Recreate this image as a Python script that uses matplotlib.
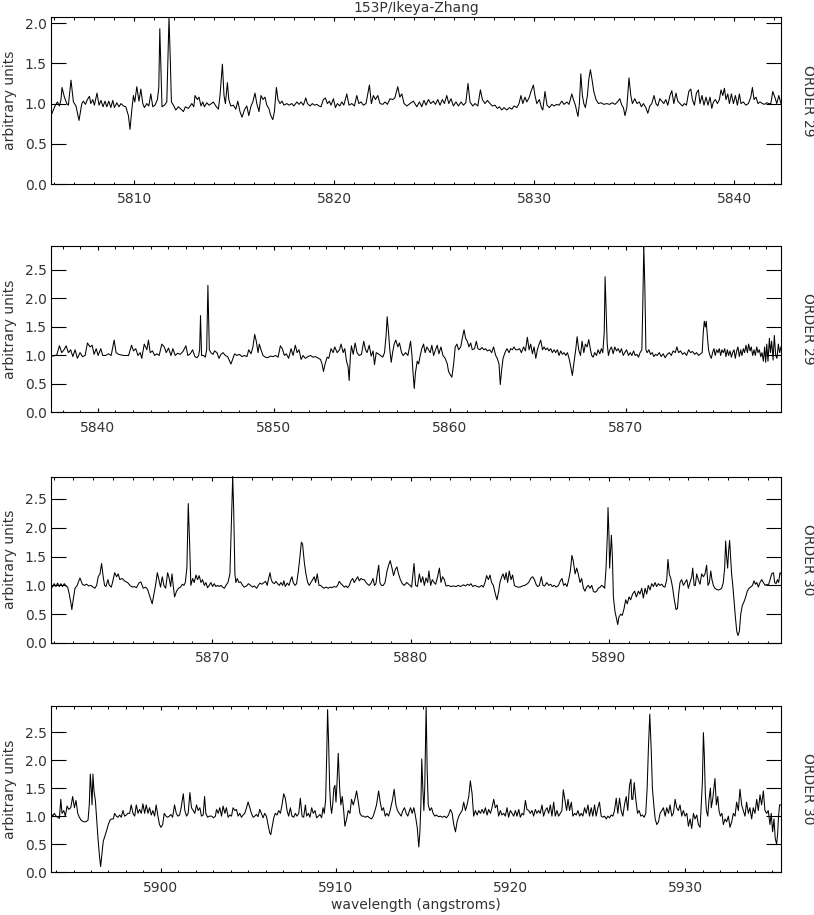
import numpy as np
import matplotlib
matplotlib.use("Agg")
import matplotlib.pyplot as plt
from matplotlib.ticker import MultipleLocator, FormatStrFormatter

title = "153P/Ikeya-Zhang"
order_labels = ["ORDER 29", "ORDER 29", "ORDER 30", "ORDER 30"]
xlims = [(5805.83, 5842.33), (5837.34, 5878.84), (5861.87, 5898.67), (5893.71, 5935.49)]
ytops = [2.07, 2.92, 2.89, 2.97]
ytick_max = [2.0, 2.5, 2.5, 2.5]

# (wavelength, flux) pairs
spec_1 = [
    (5805.83,0.85),(5806.03,0.97),(5806.15,1.02),(5806.25,0.97),(5806.33,1.05),(5806.38,1.20),(5806.50,1.08),(5806.62,1.00),(5806.70,0.98),(5806.83,1.29),
    (5806.95,1.02),(5807.08,0.97),(5807.23,0.79),(5807.37,1.00),(5807.45,1.03),(5807.55,0.99),(5807.65,1.05),(5807.75,1.09),(5807.82,1.00),(5807.92,1.05),
    (5808.00,0.98),(5808.13,1.13),(5808.23,0.98),(5808.33,1.04),(5808.43,0.96),(5808.53,1.03),(5808.62,0.96),(5808.72,1.03),(5808.82,0.95),(5808.92,1.04),
    (5809.00,0.95),(5809.12,1.01),(5809.23,0.96),(5809.33,1.00),(5809.45,0.97),(5809.57,0.96),(5809.70,0.85),(5809.78,0.68),(5809.87,0.92),(5809.95,1.10),
    (5810.02,1.02),(5810.12,1.21),(5810.23,1.03),(5810.32,1.18),(5810.42,1.00),(5810.50,0.95),(5810.62,1.00),(5810.72,0.97),(5810.82,1.12),(5810.92,0.96),
    (5811.03,0.98),(5811.15,1.05),(5811.22,1.20),(5811.27,1.93),(5811.33,1.40),(5811.38,0.96),(5811.50,0.98),(5811.62,1.02),(5811.68,1.60),(5811.73,2.07),
    (5811.80,1.50),(5811.85,1.02),(5811.95,0.98),(5812.07,0.92),(5812.20,0.96),(5812.33,0.93),(5812.45,0.90),(5812.55,0.96),(5812.70,0.94),(5812.87,1.00),
    (5812.97,0.96),(5813.03,1.10),(5813.15,1.05),(5813.23,1.08),(5813.33,0.97),(5813.42,1.02),(5813.50,0.96),(5813.62,1.01),(5813.73,0.98),(5813.85,1.00),
    (5813.95,1.02),(5814.07,0.97),(5814.20,0.93),(5814.28,1.10),(5814.40,1.49),(5814.48,1.10),(5814.55,1.00),(5814.65,1.26),(5814.72,1.05),(5814.82,0.97),
    (5814.95,0.98),(5815.07,0.93),(5815.17,1.03),(5815.28,0.90),(5815.38,0.83),(5815.50,0.92),(5815.62,0.97),(5815.72,0.85),(5815.82,0.96),(5815.92,1.02),
    (5816.03,1.13),(5816.12,1.00),(5816.23,0.90),(5816.33,1.10),(5816.43,1.05),(5816.53,1.08),(5816.62,0.98),(5816.72,0.94),(5816.82,0.85),(5816.92,0.80),
    (5817.00,0.90),(5817.10,1.20),(5817.18,1.05),(5817.28,1.00),(5817.38,1.03),(5817.48,0.98),(5817.62,1.00),(5817.73,0.98),(5817.87,1.00),(5817.98,0.97),
    (5818.12,1.02),(5818.23,0.99),(5818.33,1.02),(5818.45,0.98),(5818.57,1.07),(5818.65,1.00),(5818.78,0.97),(5818.90,1.00),(5819.00,0.98),(5819.12,0.99),
    (5819.23,0.97),(5819.33,0.96),(5819.45,1.05),(5819.55,1.07),(5819.65,1.00),(5819.75,1.03),(5819.83,0.98),(5819.95,1.06),(5820.05,0.95),(5820.15,1.00),
    (5820.27,0.97),(5820.37,1.02),(5820.47,0.98),(5820.62,1.12),(5820.73,0.98),(5820.87,1.00),(5821.00,0.97),(5821.12,1.10),(5821.22,1.00),(5821.33,1.02),
    (5821.45,0.98),(5821.58,1.00),(5821.75,1.23),(5821.85,1.00),(5821.95,1.10),(5822.05,1.05),(5822.17,1.10),(5822.28,1.00),(5822.42,0.99),(5822.53,1.02),
    (5822.65,0.99),(5822.78,1.06),(5822.92,1.05),(5823.02,1.07),(5823.17,1.21),(5823.27,1.08),(5823.37,1.12),(5823.48,1.00),(5823.62,0.97),(5823.78,1.00),
    (5823.95,1.03),(5824.12,0.96),(5824.25,1.02),(5824.37,0.96),(5824.48,1.04),(5824.58,0.98),(5824.70,1.05),(5824.82,1.00),(5824.95,1.03),(5825.05,0.99),
    (5825.17,1.05),(5825.28,0.98),(5825.40,1.05),(5825.50,1.00),(5825.62,1.10),(5825.72,1.00),(5825.83,1.06),(5825.95,0.97),(5826.08,1.02),(5826.20,0.97),
    (5826.33,1.02),(5826.45,0.98),(5826.57,1.01),(5826.68,1.25),(5826.78,1.02),(5826.92,0.97),(5827.03,1.00),(5827.17,0.97),(5827.30,1.17),(5827.40,1.05),
    (5827.53,1.00),(5827.65,1.04),(5827.78,1.00),(5827.90,0.97),(5828.03,0.98),(5828.15,0.94),(5828.25,0.96),(5828.37,0.92),(5828.48,0.95),(5828.62,0.92),
    (5828.75,0.95),(5828.87,0.93),(5828.98,0.97),(5829.12,0.95),(5829.23,1.00),(5829.33,1.10),(5829.42,1.00),(5829.53,1.08),(5829.62,1.02),(5829.73,1.07),
    (5829.83,1.15),(5829.95,1.23),(5830.03,1.10),(5830.12,1.00),(5830.25,1.05),(5830.35,0.95),(5830.42,0.92),(5830.53,1.15),(5830.63,0.98),(5830.75,0.95),
    (5830.87,0.99),(5830.98,0.97),(5831.12,0.99),(5831.23,0.98),(5831.37,1.03),(5831.48,0.99),(5831.62,1.02),(5831.73,0.99),(5831.87,1.12),(5831.95,1.05),
    (5832.05,0.98),(5832.12,0.90),(5832.18,0.84),(5832.25,1.00),(5832.32,1.37),(5832.40,1.10),(5832.47,1.00),(5832.55,0.95),(5832.65,1.10),(5832.72,1.30),
    (5832.80,1.42),(5832.88,1.30),(5832.97,1.15),(5833.08,1.05),(5833.20,1.00),(5833.33,1.01),(5833.48,0.99),(5833.62,1.00),(5833.75,0.99),(5833.90,1.01),
    (5834.03,0.99),(5834.15,1.02),(5834.27,1.06),(5834.37,0.98),(5834.45,0.95),(5834.53,0.85),(5834.62,0.95),(5834.73,1.32),(5834.82,1.10),(5834.90,1.00),
    (5835.02,1.06),(5835.13,1.00),(5835.25,1.02),(5835.35,0.96),(5835.45,1.00),(5835.57,0.95),(5835.67,0.88),(5835.77,0.97),(5835.87,1.00),(5835.98,1.10),
    (5836.08,1.00),(5836.17,0.97),(5836.27,1.06),(5836.37,1.03),(5836.47,1.00),(5836.57,1.05),(5836.67,0.98),(5836.78,1.10),(5836.87,1.16),(5836.97,1.00),
    (5837.08,1.13),(5837.17,1.03),(5837.28,1.00),(5837.40,0.97),(5837.50,1.00),(5837.60,0.98),(5837.72,1.15),(5837.82,1.18),(5837.90,1.05),(5838.00,0.98),
    (5838.10,1.13),(5838.20,1.17),(5838.28,1.00),(5838.38,1.10),(5838.48,0.98),(5838.58,1.08),(5838.68,0.98),(5838.78,1.08),(5838.87,0.94),(5838.95,1.02),
    (5839.05,1.05),(5839.15,1.00),(5839.25,1.05),(5839.33,1.17),(5839.42,1.10),(5839.50,1.19),(5839.58,1.05),(5839.67,1.12),(5839.75,1.00),(5839.85,1.12),
    (5839.95,1.00),(5840.05,1.10),(5840.15,0.98),(5840.25,1.12),(5840.33,1.00),(5840.45,1.02),(5840.57,0.98),(5840.70,1.00),(5840.82,1.08),(5840.90,1.20),
    (5840.98,1.05),(5841.08,1.08),(5841.18,1.00),(5841.28,1.02),(5841.40,1.00),(5841.50,0.99),(5841.62,1.01),(5841.72,1.00),(5841.82,1.00),(5841.92,1.15),
    (5842.02,1.08),(5842.12,1.00),(5842.22,1.10),(5842.33,1.00),
]

spec_2 = [
    (5837.34,1.00),(5837.48,0.99),(5837.67,1.01),(5837.82,1.17),(5837.95,1.05),(5838.08,1.10),(5838.20,1.17),(5838.33,1.05),(5838.46,1.10),(5838.58,0.98),
    (5838.71,1.10),(5838.84,0.95),(5838.99,1.05),(5839.13,0.98),(5839.28,1.00),(5839.41,1.22),(5839.56,1.15),(5839.68,1.18),(5839.79,1.02),(5839.91,1.12),
    (5840.02,1.00),(5840.17,1.12),(5840.28,1.00),(5840.44,1.00),(5840.61,1.03),(5840.76,1.00),(5840.93,1.27),(5841.04,1.05),(5841.18,1.02),(5841.31,1.01),
    (5841.46,1.00),(5841.61,1.00),(5841.75,1.00),(5841.92,1.18),(5842.03,1.08),(5842.16,1.12),(5842.28,1.00),(5842.41,1.05),(5842.50,0.95),(5842.64,1.20),
    (5842.79,1.10),(5842.88,1.27),(5842.98,1.05),(5843.11,1.08),(5843.23,1.00),(5843.36,1.03),(5843.49,1.00),(5843.64,1.20),(5843.78,1.15),(5843.89,1.05),
    (5844.02,1.13),(5844.16,1.00),(5844.27,1.12),(5844.40,1.00),(5844.54,1.04),(5844.69,1.02),(5844.84,1.07),(5845.01,1.17),(5845.12,1.00),(5845.26,1.03),
    (5845.39,1.10),(5845.52,0.98),(5845.64,0.96),(5845.73,1.00),(5845.79,1.10),(5845.84,1.70),(5845.90,1.00),(5846.02,1.00),(5846.11,0.97),(5846.19,1.10),
    (5846.26,2.23),(5846.34,1.10),(5846.43,1.05),(5846.55,1.02),(5846.64,1.08),(5846.77,1.05),(5846.89,0.95),(5847.00,1.02),(5847.12,1.05),(5847.25,1.00),
    (5847.38,0.98),(5847.50,0.90),(5847.57,0.85),(5847.69,0.95),(5847.78,1.03),(5847.91,1.00),(5848.05,1.02),(5848.20,0.98),(5848.33,1.00),(5848.48,0.98),
    (5848.58,1.10),(5848.71,1.03),(5848.82,1.15),(5848.92,1.37),(5849.01,1.25),(5849.11,1.05),(5849.18,1.20),(5849.28,1.10),(5849.39,1.00),(5849.53,0.97),
    (5849.66,0.96),(5849.81,0.99),(5849.96,0.98),(5850.11,1.00),(5850.25,0.97),(5850.38,1.17),(5850.49,1.12),(5850.61,1.00),(5850.72,1.03),(5850.85,0.95),
    (5850.99,1.12),(5851.10,1.00),(5851.23,1.18),(5851.33,1.05),(5851.44,1.10),(5851.56,0.93),(5851.67,1.00),(5851.80,0.95),(5851.94,0.98),(5852.09,1.00),
    (5852.24,0.97),(5852.37,0.98),(5852.50,0.96),(5852.66,0.93),(5852.75,0.85),(5852.83,0.72),(5852.92,0.85),(5853.04,0.97),(5853.13,0.95),(5853.26,1.12),
    (5853.38,1.05),(5853.47,1.15),(5853.61,1.05),(5853.74,1.10),(5853.83,1.20),(5853.95,1.05),(5854.04,1.12),(5854.14,0.90),(5854.23,0.80),(5854.29,0.56),
    (5854.36,1.00),(5854.42,1.17),(5854.52,1.02),(5854.63,1.22),(5854.74,1.05),(5854.86,1.00),(5854.99,1.02),(5855.12,1.25),(5855.22,1.10),(5855.31,1.05),
    (5855.43,1.18),(5855.54,0.99),(5855.65,1.08),(5855.73,0.84),(5855.83,1.05),(5855.94,1.03),(5856.07,1.00),(5856.20,0.97),(5856.30,1.05),(5856.39,1.35),
    (5856.45,1.68),(5856.53,1.40),(5856.60,1.10),(5856.68,0.88),(5856.76,1.05),(5856.85,1.20),(5856.94,1.27),(5857.06,1.15),(5857.15,1.22),(5857.27,1.05),
    (5857.36,1.00),(5857.50,1.05),(5857.63,1.00),(5857.78,1.25),
    (5857.86,1.00),(5857.91,0.75),(5857.99,0.42),(5858.06,0.70),(5858.16,0.90),(5858.24,0.85),(5858.33,1.00),(5858.42,1.12),(5858.52,1.20),(5858.61,1.05),
    (5858.71,1.15),(5858.80,1.10),(5858.90,1.05),(5858.99,1.18),(5859.09,1.00),(5859.20,1.10),(5859.30,1.18),(5859.39,1.03),(5859.51,1.15),(5859.62,1.00),
    (5859.75,0.95),(5859.87,0.85),(5859.94,0.72),(5860.06,0.65),(5860.13,0.62),(5860.23,0.85),(5860.32,1.15),(5860.42,1.20),(5860.51,1.10),(5860.63,1.15),
    (5860.72,1.30),(5860.82,1.45),(5860.91,1.30),(5861.01,1.25),(5861.10,1.15),(5861.20,1.22),(5861.29,1.10),(5861.42,1.12),(5861.52,1.25),(5861.61,1.12),
    (5861.73,1.10),(5861.84,1.14),(5861.95,1.10),(5862.05,1.12),(5862.14,1.08),(5862.28,1.10),(5862.39,1.05),(5862.50,1.15),(5862.62,1.00),(5862.71,0.95),
    (5862.81,0.85),(5862.88,0.49),(5862.96,0.75),(5863.04,0.95),(5863.15,1.05),(5863.26,1.12),(5863.38,1.05),(5863.47,1.12),(5863.57,1.10),(5863.66,1.15),
    (5863.76,1.10),(5863.87,1.10),(5863.98,1.12),(5864.08,1.05),(5864.21,1.15),(5864.31,1.08),(5864.42,1.32),(5864.52,1.10),(5864.61,1.20),(5864.71,1.03),
    (5864.80,1.15),(5864.90,0.95),(5864.99,1.10),(5865.09,1.20),(5865.18,1.27),(5865.28,1.10),(5865.37,1.15),(5865.46,1.10),(5865.56,1.13),(5865.65,1.08),
    (5865.75,1.12),(5865.84,1.05),(5865.94,1.10),(5866.03,1.05),(5866.13,1.10),(5866.22,1.00),(5866.32,1.08),(5866.41,1.02),(5866.51,1.05),(5866.60,1.00),
    (5866.70,1.05),(5866.79,0.95),(5866.89,0.80),(5866.98,0.65),(5867.08,0.90),(5867.17,1.10),(5867.25,1.33),(5867.34,1.10),(5867.44,1.00),(5867.53,1.25),
    (5867.63,1.05),(5867.72,1.20),(5867.82,1.15),(5867.91,1.28),(5868.01,1.10),(5868.08,1.00),(5868.16,0.97),(5868.25,1.05),(5868.35,1.00),(5868.44,1.10),
    (5868.54,1.03),(5868.63,1.12),(5868.71,1.05),(5868.79,1.40),(5868.84,2.38),(5868.90,1.80),(5868.96,1.20),(5869.03,1.00),(5869.11,1.10),(5869.20,1.15),
    (5869.30,1.03),(5869.39,1.15),(5869.49,1.08),(5869.58,1.12),(5869.68,1.05),(5869.77,1.12),(5869.87,1.00),(5869.96,1.05),(5870.06,1.10),(5870.17,1.00),
    (5870.27,1.05),(5870.36,1.00),(5870.46,1.08),(5870.55,1.00),(5870.65,1.02),(5870.74,0.97),(5870.83,1.05),(5870.93,1.10),(5870.99,2.00),(5871.04,2.92),
    (5871.10,2.20),(5871.16,1.10),(5871.23,1.05),(5871.33,1.10),(5871.42,1.02),(5871.52,1.05),(5871.61,0.98),(5871.71,1.02),(5871.80,1.00),(5871.92,1.05),
    (5872.03,0.98),(5872.14,1.03),(5872.26,0.96),(5872.37,1.02),(5872.49,1.05),(5872.60,1.00),(5872.71,1.08),(5872.83,1.05),(5872.92,1.15),(5873.02,1.05),
    (5873.13,1.08),(5873.24,1.02),(5873.36,1.05),(5873.47,1.00),(5873.59,1.10),(5873.70,1.05),(5873.81,1.07),(5873.93,1.02),(5874.04,1.05),(5874.16,1.00),
    (5874.27,1.03),(5874.36,1.05),(5874.42,1.40),(5874.48,1.60),(5874.54,1.50),(5874.59,1.60),(5874.65,1.35),(5874.72,1.10),(5874.80,1.00),(5874.88,0.95),
    (5874.95,1.05),(5875.03,1.12),(5875.10,1.00),(5875.18,1.10),(5875.26,1.05),(5875.33,1.12),(5875.41,1.00),(5875.48,1.10),(5875.56,1.05),(5875.64,1.12),
    (5875.71,0.98),(5875.79,1.10),(5875.86,1.00),(5875.94,1.08),(5876.02,0.97),(5876.09,1.05),(5876.17,1.10),(5876.24,0.95),(5876.32,1.08),(5876.39,1.15),
    (5876.47,0.98),(5876.55,1.10),(5876.62,1.00),(5876.70,1.12),(5876.77,1.05),(5876.85,1.18),(5876.93,1.05),(5877.00,1.20),(5877.08,1.08),(5877.15,1.15),
    (5877.23,1.00),(5877.31,1.10),(5877.38,1.00),(5877.46,1.15),(5877.53,1.05),(5877.61,1.10),(5877.69,0.98),(5877.76,1.05),(5877.84,0.90),(5877.91,1.15),
    (5877.97,0.88),(5878.03,1.20),(5878.10,0.90),(5878.18,1.30),(5878.24,1.05),(5878.31,1.25),(5878.39,0.92),(5878.46,1.35),(5878.54,1.00),(5878.61,0.95),
    (5878.69,1.20),(5878.76,1.05),(5878.84,1.15),
]

spec_3 = [
    (5861.87,1.00),(5861.95,0.97),(5862.03,1.03),(5862.12,0.98),(5862.20,1.04),(5862.29,0.98),(5862.37,1.03),(5862.45,0.98),(5862.54,1.03),(5862.62,0.99),
    (5862.71,0.97),(5862.79,0.85),(5862.87,0.70),(5862.92,0.58),(5862.99,0.75),(5863.08,0.95),(5863.19,1.00),(5863.33,1.13),(5863.45,1.02),(5863.55,1.00),
    (5863.66,1.02),(5863.78,0.99),(5863.88,1.00),(5864.00,0.97),(5864.08,0.95),(5864.17,1.00),(5864.25,1.15),(5864.34,1.20),(5864.42,1.38),(5864.50,1.15),
    (5864.57,1.00),(5864.64,0.98),(5864.74,1.10),(5864.81,1.00),(5864.91,0.97),(5864.97,1.05),(5865.08,1.22),(5865.18,1.15),(5865.26,1.20),(5865.34,1.10),
    (5865.46,1.12),(5865.60,1.07),(5865.73,1.05),(5865.85,1.00),(5865.97,0.97),(5866.07,0.98),(5866.18,0.96),(5866.30,1.04),(5866.40,1.06),(5866.52,0.95),
    (5866.64,0.97),(5866.74,0.93),(5866.86,0.80),(5866.97,0.68),(5867.06,0.85),(5867.14,1.00),(5867.23,1.22),(5867.31,1.10),(5867.39,0.97),(5867.48,1.15),
    (5867.56,1.00),(5867.65,0.95),(5867.75,1.22),(5867.83,1.12),(5867.90,0.98),(5867.97,1.20),(5868.03,1.00),(5868.10,0.80),(5868.20,0.90),(5868.30,0.95),
    (5868.40,0.97),(5868.49,1.02),(5868.57,1.00),(5868.64,1.05),(5868.72,1.30),(5868.79,2.42),(5868.86,1.70),(5868.92,1.00),(5869.01,1.12),(5869.09,1.05),
    (5869.18,1.18),(5869.26,1.10),(5869.34,1.17),(5869.43,1.05),(5869.51,1.10),(5869.60,1.00),(5869.68,1.05),(5869.76,0.96),(5869.85,1.00),(5869.93,1.05),
    (5870.02,0.98),(5870.10,1.03),(5870.18,0.98),(5870.27,1.00),(5870.35,0.98),(5870.44,1.00),(5870.52,0.97),(5870.61,0.95),(5870.69,1.00),(5870.79,1.05),
    (5870.89,1.20),(5870.97,2.20),(5871.03,2.89),(5871.08,2.30),(5871.14,1.20),(5871.19,1.05),(5871.26,1.12),(5871.34,1.05),(5871.43,1.06),(5871.53,1.00),
    (5871.61,0.97),(5871.73,0.99),(5871.82,1.03),(5871.93,1.00),(5872.03,0.97),(5872.12,0.99),(5872.24,0.95),(5872.32,1.00),(5872.40,1.04),(5872.50,1.02),
    (5872.61,1.05),(5872.69,1.07),(5872.77,1.00),(5872.84,1.12),(5872.91,1.22),(5872.97,1.10),(5873.04,1.05),(5873.13,1.03),(5873.21,1.07),(5873.29,1.03),
    (5873.38,1.00),(5873.46,1.05),(5873.55,1.00),(5873.61,1.08),(5873.68,0.98),(5873.78,1.04),(5873.87,1.00),(5873.95,1.10),(5874.02,1.15),(5874.08,1.05),
    (5874.17,1.00),(5874.25,1.03),(5874.34,1.25),(5874.42,1.50),(5874.49,1.75),(5874.55,1.72),(5874.64,1.40),(5874.72,1.20),(5874.81,1.05),(5874.89,1.00),
    (5874.97,1.05),(5875.06,1.10),(5875.14,1.15),(5875.21,1.05),(5875.29,1.20),(5875.38,1.00),(5875.46,1.00),(5875.55,0.97),(5875.63,0.95),(5875.73,0.97),
    (5875.85,0.95),(5875.93,0.97),(5876.03,0.96),(5876.13,0.98),(5876.24,0.97),(5876.32,1.00),(5876.40,1.07),(5876.49,1.03),(5876.57,1.00),(5876.66,0.97),
    (5876.74,0.99),(5876.82,0.96),(5876.91,1.00),(5876.99,1.08),(5877.08,1.12),(5877.16,1.05),(5877.24,1.10),(5877.33,1.15),(5877.41,1.08),(5877.50,1.12),
    (5877.58,1.10),(5877.66,1.10),(5877.75,1.05),(5877.83,1.02),(5877.92,1.00),(5878.02,1.05),(5878.10,1.12),(5878.18,1.00),(5878.25,1.03),(5878.32,1.20),
    (5878.39,1.35),(5878.45,1.05),(5878.52,1.00),(5878.62,1.00),(5878.71,1.05),(5878.81,1.25),(5878.89,1.35),(5878.97,1.43),(5879.06,1.30),(5879.14,1.17),
    (5879.23,1.28),(5879.31,1.32),(5879.39,1.20),(5879.48,1.10),(5879.58,1.03),(5879.68,1.00),(5879.80,1.05),(5879.97,1.00),
    (5880.05,0.97),(5880.17,1.38),(5880.25,1.00),(5880.34,0.98),(5880.44,1.20),(5880.52,1.05),(5880.61,1.15),(5880.69,1.00),(5880.77,1.13),(5880.86,1.05),
    (5880.92,1.25),(5881.01,1.00),(5881.09,1.10),(5881.18,1.05),(5881.26,1.02),(5881.36,1.15),(5881.45,1.30),(5881.53,1.05),(5881.61,1.15),(5881.70,1.10),
    (5881.78,0.99),(5881.90,1.00),(5882.02,0.98),(5882.15,0.99),(5882.29,0.98),(5882.40,1.00),(5882.52,0.98),(5882.66,1.01),(5882.77,0.99),(5882.87,1.02),
    (5882.96,1.00),(5883.04,1.03),(5883.13,0.98),(5883.24,1.00),(5883.36,0.98),(5883.46,0.97),(5883.58,1.00),(5883.66,0.97),(5883.75,1.05),(5883.83,1.17),
    (5883.92,1.10),(5884.00,1.18),(5884.08,1.05),(5884.17,1.00),(5884.27,0.85),(5884.35,0.75),(5884.44,0.90),(5884.50,1.05),(5884.59,1.15),(5884.66,1.20),
    (5884.74,1.10),(5884.81,1.22),(5884.89,1.05),(5884.97,1.25),(5885.06,1.10),(5885.14,1.18),(5885.23,1.00),(5885.31,0.98),(5885.41,0.97),(5885.51,0.97),
    (5885.63,0.99),(5885.75,1.00),(5885.85,1.02),(5885.95,1.05),(5886.05,1.12),(5886.15,1.15),(5886.24,1.10),(5886.32,1.02),(5886.40,0.98),(5886.49,1.00),
    (5886.59,1.15),(5886.67,1.00),(5886.76,0.99),(5886.86,1.05),(5886.96,1.00),(5887.06,1.02),(5887.14,0.98),(5887.24,1.00),(5887.34,0.97),(5887.45,1.00),
    (5887.55,1.08),(5887.63,1.12),(5887.71,1.00),(5887.80,1.03),(5887.88,0.98),(5887.97,1.10),(5888.05,1.25),(5888.13,1.52),(5888.20,1.42),(5888.29,1.20),
    (5888.37,1.30),(5888.45,1.20),(5888.54,1.05),(5888.62,1.12),(5888.71,0.95),(5888.79,0.90),(5888.87,0.97),(5888.96,1.00),(5889.04,0.95),(5889.13,1.00),
    (5889.21,0.90),(5889.29,0.88),(5889.38,0.90),(5889.46,0.95),(5889.55,0.97),(5889.63,1.00),(5889.71,0.98),(5889.78,0.95),(5889.85,1.30),(5889.92,1.90),
    (5889.95,2.35),(5890.00,1.85),(5890.03,1.30),(5890.08,1.60),(5890.12,1.87),(5890.17,1.50),(5890.22,0.80),(5890.30,0.55),(5890.39,0.40),(5890.44,0.32),
    (5890.50,0.45),(5890.59,0.50),(5890.67,0.48),(5890.76,0.60),(5890.84,0.75),(5890.92,0.68),(5891.01,0.80),(5891.09,0.75),(5891.19,0.85),(5891.29,0.90),
    (5891.38,0.80),(5891.48,0.90),(5891.56,0.85),(5891.65,0.95),(5891.73,0.78),(5891.82,0.95),(5891.90,0.85),(5891.98,1.00),(5892.07,0.92),(5892.15,1.03),
    (5892.24,0.98),(5892.32,1.05),(5892.40,0.98),(5892.49,1.03),(5892.57,1.00),(5892.66,1.02),(5892.74,0.98),(5892.82,0.97),(5892.91,1.10),(5892.97,1.45),
    (5893.04,1.20),(5893.13,1.10),(5893.21,0.95),(5893.29,0.75),(5893.38,0.58),(5893.45,0.60),(5893.51,0.85),(5893.58,1.05),(5893.66,1.10),(5893.75,1.00),
    (5893.83,1.05),(5893.92,1.10),(5894.00,0.95),(5894.08,1.05),(5894.17,1.15),(5894.22,1.30),(5894.29,1.00),(5894.35,1.00),(5894.42,1.20),(5894.50,1.10),
    (5894.59,1.02),(5894.67,1.20),(5894.76,1.15),(5894.84,1.20),(5894.92,1.35),(5894.99,1.00),(5895.06,1.05),(5895.13,1.25),(5895.19,1.10),(5895.26,1.00),
    (5895.34,0.95),(5895.43,0.93),(5895.51,0.92),(5895.60,0.93),(5895.68,0.95),(5895.76,1.05),(5895.83,1.30),(5895.88,1.77),(5895.93,1.50),(5895.98,1.30),
    (5896.03,1.60),(5896.08,1.78),(5896.13,1.50),(5896.18,1.20),(5896.24,1.00),(5896.30,0.75),(5896.37,0.45),(5896.44,0.20),(5896.50,0.13),(5896.57,0.20),
    (5896.64,0.50),(5896.72,0.65),(5896.81,0.72),(5896.89,0.80),(5896.97,0.90),(5897.06,0.95),(5897.14,0.97),(5897.23,1.00),(5897.31,1.08),(5897.38,1.02),
    (5897.45,1.05),(5897.53,0.97),(5897.61,1.05),(5897.70,1.10),(5897.78,1.05),(5897.87,1.00),(5897.95,1.02),(5898.03,1.00),(5898.12,1.10),(5898.20,1.20),
    (5898.29,1.22),(5898.35,1.05),(5898.42,1.03),(5898.49,1.10),(5898.55,1.05),(5898.62,1.22),(5898.67,1.20),
]

spec_4 = [
    (5893.71,1.05),(5893.81,1.00),(5893.90,1.05),(5894.00,1.00),(5894.10,0.98),(5894.19,0.96),(5894.27,1.30),(5894.34,1.05),(5894.44,1.10),(5894.53,1.00),
    (5894.63,1.18),(5894.72,1.12),(5894.84,1.15),(5894.95,1.35),(5895.05,1.15),(5895.14,1.28),(5895.24,1.05),(5895.33,0.98),(5895.43,0.93),(5895.56,0.90),
    (5895.71,0.90),(5895.83,0.93),(5895.90,1.20),(5895.96,1.75),(5896.02,1.45),(5896.06,1.20),(5896.11,1.75),(5896.17,1.45),(5896.25,1.28),(5896.32,0.95),
    (5896.40,0.60),(5896.48,0.30),(5896.55,0.10),(5896.63,0.35),(5896.70,0.55),(5896.80,0.65),(5896.90,0.75),(5896.99,0.85),(5897.09,0.93),(5897.18,0.95),
    (5897.28,0.95),(5897.35,1.05),(5897.45,1.00),(5897.54,0.98),(5897.64,1.02),(5897.73,0.98),(5897.83,1.10),(5897.92,1.00),(5898.02,1.02),(5898.11,1.05),
    (5898.21,1.05),(5898.30,1.20),(5898.40,1.05),(5898.50,1.00),(5898.59,1.20),(5898.69,1.05),(5898.78,1.12),(5898.88,1.05),(5898.97,1.22),(5899.07,1.05),
    (5899.16,1.20),(5899.26,1.05),(5899.35,1.15),(5899.45,1.02),(5899.54,1.10),(5899.64,1.00),(5899.73,1.20),(5899.83,1.00),(5899.92,0.85),(5900.00,0.80),
    (5900.10,0.85),(5900.19,1.05),(5900.29,1.00),(5900.38,0.98),(5900.48,1.00),(5900.57,1.03),(5900.67,0.98),(5900.78,1.20),(5900.88,1.05),(5900.97,1.00),
    (5901.07,1.02),(5901.16,1.15),(5901.28,1.40),(5901.37,1.10),(5901.47,1.00),(5901.56,1.05),(5901.66,1.42),(5901.75,1.15),(5901.85,1.10),(5901.94,1.05),
    (5902.04,1.20),(5902.13,1.10),(5902.23,1.15),(5902.32,1.00),(5902.42,1.02),(5902.50,1.35),(5902.57,1.05),(5902.67,0.98),(5902.78,1.00),(5902.90,1.00),
    (5903.01,0.97),(5903.12,1.00),(5903.18,1.12),(5903.28,1.05),(5903.37,1.15),(5903.47,1.00),(5903.56,1.18),(5903.66,1.05),(5903.75,1.15),(5903.85,0.98),
    (5903.94,1.02),(5904.04,1.00),(5904.13,1.15),(5904.23,1.10),(5904.32,1.12),(5904.42,1.00),(5904.51,1.05),(5904.61,0.98),(5904.70,1.02),(5904.80,1.05),
    (5904.90,1.15),(5904.99,1.25),(5905.09,1.15),(5905.18,1.05),(5905.28,0.98),(5905.37,1.00),(5905.47,1.03),(5905.56,0.99),(5905.66,1.12),(5905.75,1.05),
    (5905.85,0.97),(5905.94,1.05),(5906.04,1.00),(5906.13,0.85),(5906.23,0.70),(5906.29,0.67),(5906.36,0.80),(5906.46,0.97),(5906.55,1.05),(5906.65,1.02),
    (5906.74,1.10),(5906.84,1.05),(5906.93,1.20),(5907.03,1.40),(5907.12,1.32),(5907.22,1.10),(5907.31,1.00),(5907.41,1.15),(5907.50,1.00),(5907.60,0.98),
    (5907.70,1.05),(5907.79,1.00),(5907.89,1.05),(5907.98,1.32),(5908.08,1.00),(5908.17,0.98),(5908.27,1.20),(5908.34,1.00),(5908.44,1.05),(5908.53,0.98),
    (5908.63,1.15),(5908.72,1.05),(5908.82,1.10),(5908.91,0.97),(5909.01,1.00),(5909.10,1.03),(5909.20,0.97),(5909.28,1.15),(5909.35,1.05),(5909.43,1.30),
    (5909.49,2.10),(5909.54,2.90),(5909.60,2.30),(5909.66,1.50),(5909.71,1.20),(5909.77,1.05),(5909.83,1.20),(5909.90,1.50),(5909.96,1.55),(5910.02,1.25),
    (5910.08,1.60),(5910.15,2.12),(5910.23,1.50),(5910.30,1.20),(5910.38,1.35),(5910.46,1.10),(5910.53,0.82),(5910.63,0.95),(5910.72,1.10),(5910.82,1.05),
    (5910.91,1.30),(5911.01,1.20),(5911.10,1.30),(5911.20,1.45),(5911.30,1.25),(5911.39,1.05),(5911.49,1.00),(5911.60,1.00),(5911.71,0.98),(5911.83,1.00),
    (5911.94,0.97),(5912.06,0.95),(5912.15,1.00),(5912.25,1.10),(5912.34,1.20),(5912.46,1.45),(5912.55,1.25),(5912.65,1.10),(5912.74,1.15),(5912.84,1.00),
    (5912.93,1.05),(5913.03,1.00),(5913.12,1.10),(5913.26,1.30),(5913.35,1.48),(5913.45,1.20),(5913.54,1.10),(5913.64,1.05),(5913.75,1.00),(5913.85,1.10),
    (5913.94,1.15),(5914.04,1.05),(5914.13,1.00),(5914.23,1.10),
    (5914.29,1.15),(5914.38,1.05),(5914.48,1.15),(5914.57,1.00),(5914.67,0.80),(5914.76,0.45),(5914.82,0.70),(5914.88,1.20),(5914.93,2.02),(5914.99,1.50),
    (5915.05,1.10),(5915.10,1.50),(5915.18,2.97),(5915.24,1.80),(5915.30,1.20),(5915.39,1.10),(5915.49,1.15),(5915.58,1.05),(5915.68,1.00),(5915.77,1.02),
    (5915.89,0.99),(5916.00,1.00),(5916.11,0.98),(5916.23,1.00),(5916.34,0.97),(5916.46,1.02),(5916.57,1.12),(5916.67,1.05),(5916.76,0.85),(5916.86,0.72),
    (5916.95,0.90),(5917.05,1.00),(5917.14,1.05),(5917.24,1.10),(5917.33,1.25),(5917.43,1.10),(5917.52,1.20),(5917.62,1.35),(5917.71,1.63),(5917.81,1.40),
    (5917.90,1.00),(5918.00,1.10),(5918.10,1.02),(5918.19,1.10),(5918.29,1.05),(5918.38,1.12),(5918.48,1.05),(5918.57,1.15),(5918.67,1.02),(5918.76,1.12),
    (5918.86,1.05),(5918.95,1.15),(5919.05,1.30),(5919.14,1.15),(5919.24,1.20),(5919.33,1.00),(5919.43,1.10),(5919.52,1.02),(5919.62,1.05),(5919.71,1.00),
    (5919.81,1.15),(5919.90,0.98),(5920.00,1.10),(5920.10,1.05),(5920.19,1.00),(5920.29,1.10),(5920.38,1.00),(5920.48,1.12),(5920.57,0.98),(5920.67,1.05),
    (5920.76,1.02),(5920.86,1.28),(5920.95,1.12),(5921.05,1.10),(5921.14,1.05),(5921.24,1.10),(5921.33,1.00),(5921.43,1.12),(5921.52,1.05),(5921.62,1.10),
    (5921.71,1.05),(5921.81,1.20),(5921.90,1.00),(5922.00,1.10),(5922.10,1.15),(5922.19,1.05),(5922.29,1.20),(5922.38,1.00),(5922.48,1.25),(5922.57,1.00),
    (5922.67,1.10),(5922.76,1.00),(5922.86,1.05),(5922.95,1.10),(5923.03,1.47),(5923.12,1.30),(5923.22,1.10),(5923.30,1.30),(5923.39,1.10),(5923.49,1.25),
    (5923.58,1.00),(5923.68,1.05),(5923.77,1.02),(5923.87,1.10),(5923.96,1.00),(5924.06,1.05),(5924.15,1.00),(5924.25,1.15),(5924.34,1.05),(5924.44,1.20),
    (5924.53,1.00),(5924.63,1.15),(5924.72,1.00),(5924.82,1.20),(5924.91,1.00),(5925.01,1.15),(5925.10,1.25),(5925.20,1.00),(5925.30,0.98),(5925.39,1.00),
    (5925.49,0.95),(5925.58,1.00),(5925.68,0.97),(5925.77,1.02),(5925.87,1.00),(5925.96,1.10),(5926.06,1.32),(5926.15,1.05),(5926.25,1.32),(5926.34,1.10),
    (5926.44,1.00),(5926.53,1.20),(5926.63,1.35),(5926.72,1.10),(5926.82,1.55),(5926.90,1.66),(5926.95,1.30),(5927.01,1.30),(5927.09,1.60),(5927.18,1.30),
    (5927.28,1.05),(5927.37,1.10),(5927.47,1.00),(5927.56,1.02),(5927.66,0.98),(5927.75,1.05),(5927.83,1.50),(5927.90,2.20),(5927.98,2.82),(5928.06,2.20),
    (5928.13,1.50),(5928.21,1.20),(5928.29,0.95),(5928.38,0.85),(5928.48,0.90),(5928.57,1.05),(5928.67,1.10),(5928.76,1.15),(5928.86,1.00),(5928.95,1.15),
    (5929.05,1.05),(5929.14,1.20),(5929.24,1.00),(5929.33,1.05),(5929.43,1.30),(5929.52,1.15),(5929.62,1.10),(5929.71,1.20),(5929.81,1.00),(5929.90,1.10),
    (5930.00,1.00),(5930.10,1.05),(5930.19,0.82),(5930.29,0.95),(5930.38,0.78),(5930.48,1.05),(5930.57,0.95),(5930.67,1.02),(5930.76,0.85),(5930.86,0.80),
    (5930.91,1.10),(5930.99,1.60),(5931.05,2.49),(5931.10,2.10),(5931.16,1.40),(5931.22,1.10),(5931.30,1.00),(5931.37,1.30),(5931.45,1.50),(5931.50,1.15),
    (5931.58,1.30),(5931.71,1.67),(5931.79,1.20),(5931.87,1.35),(5931.94,1.10),(5932.02,1.00),(5932.11,1.05),(5932.19,0.85),(5932.29,0.95),(5932.38,0.90),
    (5932.48,1.00),(5932.57,0.80),(5932.67,0.90),(5932.76,1.05),(5932.86,1.00),(5932.95,1.25),(5933.05,1.10),(5933.14,1.48),(5933.24,1.20),(5933.33,1.10),
    (5933.43,1.00),(5933.52,1.25),(5933.62,1.05),(5933.71,1.15),(5933.81,0.95),(5933.90,1.15),(5934.00,1.05),(5934.10,1.30),(5934.19,1.10),(5934.29,1.38),
    (5934.38,1.20),(5934.48,1.45),(5934.57,1.10),(5934.67,1.05),(5934.76,1.10),(5934.86,0.85),(5934.93,1.05),(5935.01,0.72),(5935.09,0.95),(5935.16,0.60),
    (5935.24,0.50),(5935.30,0.70),(5935.35,1.00),(5935.41,1.20),(5935.49,1.20),
]

spectra = [spec_1, spec_2, spec_3, spec_4]

W, H = 814.0, 915.0
fig = plt.figure(figsize=(W / 100, H / 100), dpi=100)
txt = "#333333"
fs = 10

# panel frames in pixels (top edge, height); left/right shared
tops = [17.5, 246.0, 476.5, 705.7]
ph = 166.5
left, pw = 51.0, 730.0

for i, spec in enumerate(spectra):
    ax = fig.add_axes([left / W, 1 - (tops[i] + ph) / H, pw / W, ph / H])
    wl, fx = np.array(spec).T
    ax.plot(wl, fx, color="black", lw=0.75)
    ax.set_xlim(*xlims[i])
    ax.set_ylim(0, ytops[i])
    ax.set_yticks(np.arange(0, ytick_max[i] + 0.01, 0.5))
    ax.yaxis.set_major_formatter(FormatStrFormatter("%.1f"))
    ax.xaxis.set_major_locator(MultipleLocator(10))
    ax.xaxis.set_major_formatter(FormatStrFormatter("%d"))
    ax.xaxis.set_minor_locator(MultipleLocator(1))
    ax.tick_params(axis="y", direction="in", length=10.8, width=0.8, left=True, right=True,
                   labelsize=fs, labelcolor=txt, pad=3)
    ax.tick_params(axis="x", which="major", direction="in", length=2.6, width=0.8,
                   top=True, bottom=True, labelsize=fs, labelcolor=txt, pad=6)
    ax.tick_params(axis="x", which="minor", direction="in", length=1.8, width=0.7,
                   top=True, bottom=True)
    for s in ax.spines.values():
        s.set_linewidth(0.8)

    yc = 1 - (tops[i] + ph / 2) / H
    fig.text(10 / W, yc, "arbitrary units", rotation=90, ha="center", va="center",
             fontsize=fs, color=txt)
    fig.text(808 / W, yc, order_labels[i], rotation=270, ha="center", va="center",
             fontsize=fs, color=txt)

fig.text(416 / W, 1 - 8 / H, title, ha="center", va="center", fontsize=fs, color=txt)
fig.text(416 / W, 1 - 905 / H, "wavelength (angstroms)", ha="center", va="center",
         fontsize=fs, color=txt)

fig.savefig("out.png", dpi=100)
